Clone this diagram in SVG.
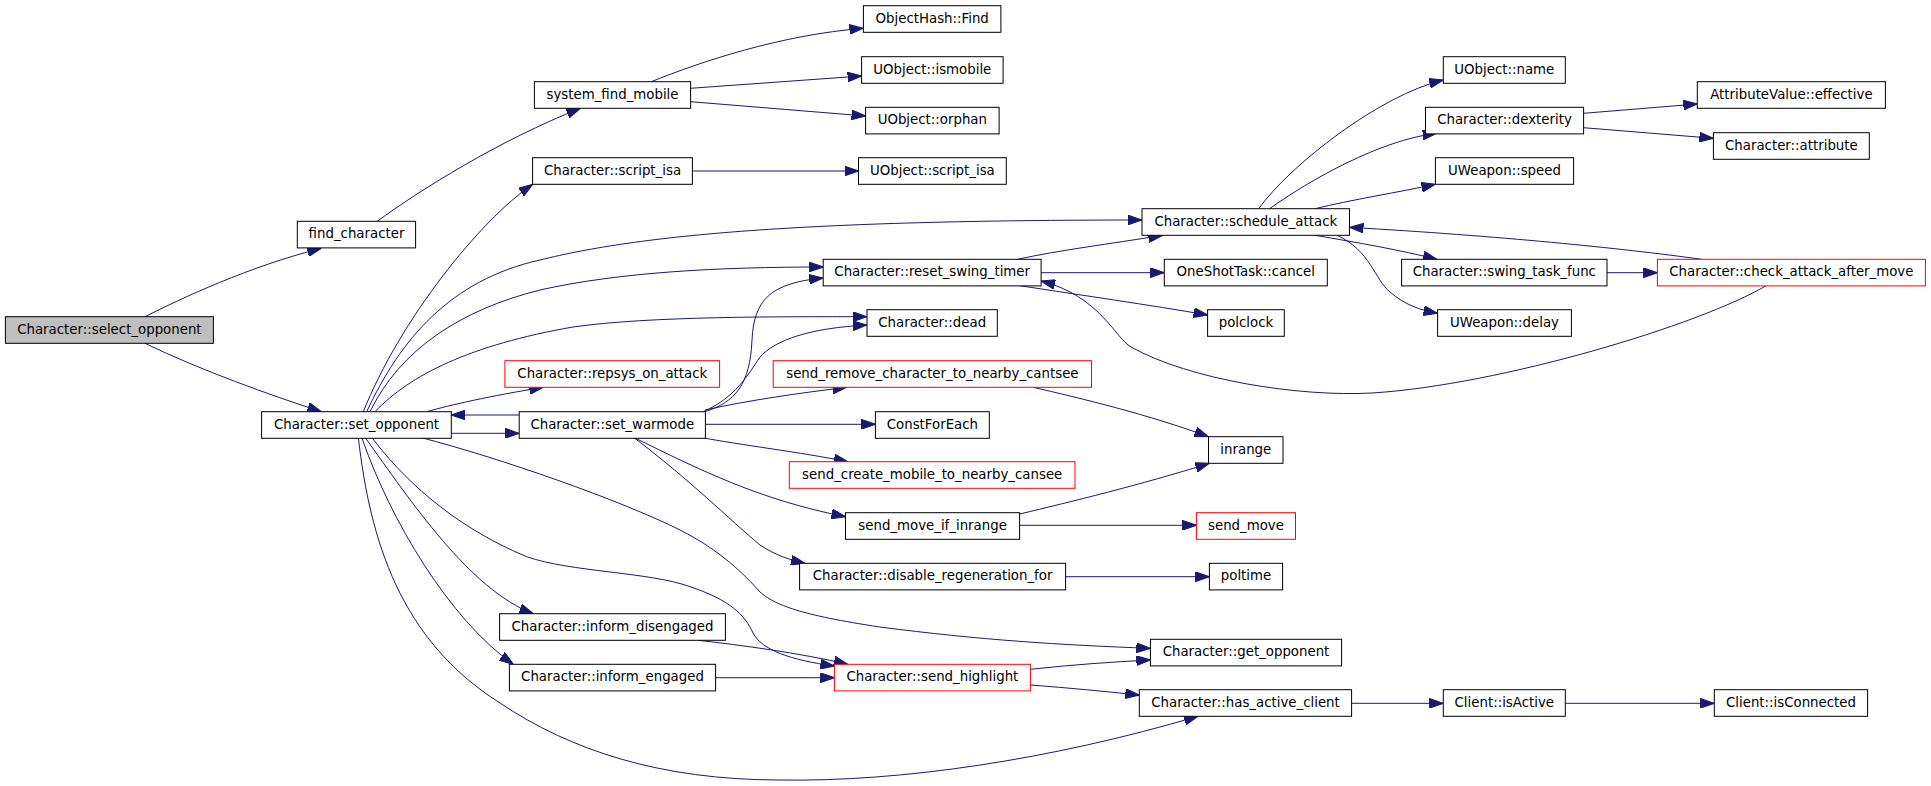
<svg xmlns="http://www.w3.org/2000/svg" width="1931" height="786" viewBox="0 0 1931 786">
<defs>
<style>
.n rect{fill:#ffffff;stroke:#000000;stroke-width:1}
.n.r rect{stroke:#ff0000}
.n.g rect{fill:#bfbfbf}
.n text{font-family:"DejaVu Sans","Liberation Sans",sans-serif;font-size:13.33px;fill:#000000;text-anchor:middle}
.e path{fill:none;stroke:#191970;stroke-width:1;marker-end:url(#ah)}
</style>
<marker id="ah" markerUnits="userSpaceOnUse" markerWidth="14" markerHeight="10" viewBox="0 0 13 9" refX="13" refY="4.5" orient="auto">
<path d="M0,0 L13,4.5 L0,9 z" fill="#191970" stroke="#191970" stroke-width="1"/>
</marker>
</defs>
<rect x="0" y="0" width="1931" height="786" fill="#ffffff"/>
<g id="edges" class="e">
<path d="M145,316.7 C180,299 250,266 321.4,248.3"/>
<path d="M145,343.3 C200,370 270,395 321.4,411.7"/>
<path d="M377.2,221.3 C420,190 500,140 580.4,108.3"/>
<path d="M651.3,81.7 C700,62 780,35 863.4,28.3"/>
<path d="M690.6,88.3 L861.6,76"/>
<path d="M690.6,101.7 L865.6,116"/>
<path d="M692.4,171 L858.5,171"/>
<path d="M363.3,411.7 C400,320 480,220 532.6,184.3"/>
<path d="M366.7,411.7 C400,340 450,280 540,260 C640,235 800,220 1142,220"/>
<path d="M370,411.7 C400,350 460,310 540,290 C620,272 720,267 823.2,267"/>
<path d="M375,411.7 C410,375 470,345 573,327 C650,316 780,316.7 867,316.7"/>
<path d="M426.7,411.7 C450,405 490,396 543.3,387.3"/>
<path d="M451.3,433.3 L519.2,433.3"/>
<path d="M519.2,415 L451.3,415"/>
<path d="M420,437.3 C500,458 620,500 680,530 C720,550 745,575 760,592 C775,605 800,615 880,627 C980,640 1060,645 1150.4,648.3"/>
<path d="M365,437.3 C410,500 470,590 533.3,613.7"/>
<path d="M361.7,437.3 C390,520 450,620 513.3,664.3"/>
<path d="M371.7,437.3 C400,475 450,525 526.7,556.7 C570,572 650,572 690,586.7 C730,600 745,615 753,633 C762,650 790,660 834.4,666"/>
<path d="M358.3,437.3 C370,540 400,640 500,703 C570,750 660,780 780,780 C900,782 1050,760 1198,716.3"/>
<path d="M705,411.7 C735,402 750,385 752,340 C754,300 770,283 823.2,278"/>
<path d="M703,411.7 C735,398 748,375 760,357 C775,340 810,328 867,325"/>
<path d="M705,410 C750,400 800,393 846.7,387.3"/>
<path d="M705.4,424.3 L875.4,424.3"/>
<path d="M700.4,437.3 C740,445 800,452 847.8,461.7"/>
<path d="M633.5,437.3 C700,470 760,500 845.5,516.7"/>
<path d="M633.5,437.3 C690,480 730,520 760,545 C775,555 790,560 805,563.3"/>
<path d="M1017.4,259.3 C1060,250 1110,244 1162.5,235.3"/>
<path d="M1041.1,272.7 L1164.3,272.7"/>
<path d="M1017.4,285.3 C1080,295 1150,305 1207.6,315"/>
<path d="M1258.7,208.7 C1290,165 1380,95 1443.3,80"/>
<path d="M1269.5,208.7 C1310,180 1380,140 1436.8,133.3"/>
<path d="M1315,208.7 C1350,200 1400,192 1435.4,184.3"/>
<path d="M1315,235.3 C1360,243 1400,250 1436.8,259.3"/>
<path d="M1337,235.3 C1370,250 1375,280 1390,292 C1405,305 1420,310 1437.6,313.3"/>
<path d="M1583.6,113.3 L1697.3,104"/>
<path d="M1583.6,127.7 L1713.4,138.3"/>
<path d="M1607,272.7 L1657.4,272.7"/>
<path d="M1701.7,259.3 C1620,248 1500,236 1349.5,227.3"/>
<path d="M1766.8,285.3 C1700,325 1500,385 1372,393 C1300,397 1190,380 1131,347 C1115,338 1100,296 1041.1,281"/>
<path d="M1033,387.3 C1080,398 1150,415 1208.5,436.7"/>
<path d="M1019.6,514 C1070,502 1140,485 1209.4,463.3"/>
<path d="M1019.6,525.3 L1196.4,525.3"/>
<path d="M1065.6,576.7 L1209.4,576.7"/>
<path d="M698,640.3 C740,645 800,653 847.8,664.3"/>
<path d="M715.6,677.7 L834.4,677.7"/>
<path d="M1030.4,669.3 C1070,665 1110,662 1150.4,660"/>
<path d="M1030.4,685 C1070,688 1100,691 1139.3,695"/>
<path d="M1351.6,703.3 L1443.3,703.3"/>
<path d="M1565.3,703.3 L1714.3,703.3"/>
</g>
<g id="n_select_opponent" class="n g"><rect x="5.4" y="316.7" width="208" height="26.6"/><text x="109.4" y="333.5">Character::select_opponent</text></g>
<g id="n_find_character" class="n"><rect x="297.3" y="221.3" width="118.3" height="26.6"/><text x="356.5" y="238.1">find_character</text></g>
<g id="n_system_find_mobile" class="n"><rect x="534.4" y="81.7" width="156.2" height="26.6"/><text x="612.5" y="98.5">system_find_mobile</text></g>
<g id="n_char_script_isa" class="n"><rect x="532.6" y="157.7" width="159.8" height="26.6"/><text x="612.5" y="174.5">Character::script_isa</text></g>
<g id="n_set_opponent" class="n"><rect x="261.6" y="411.7" width="189.7" height="26.6"/><text x="356.5" y="428.5">Character::set_opponent</text></g>
<g id="n_repsys" class="n r"><rect x="504.9" y="360.7" width="214.7" height="26.6"/><text x="612.3" y="377.5">Character::repsys_on_attack</text></g>
<g id="n_set_warmode" class="n"><rect x="519.2" y="411.7" width="186.2" height="26.6"/><text x="612.3" y="428.5">Character::set_warmode</text></g>
<g id="n_inform_disengaged" class="n"><rect x="499.6" y="613.7" width="225.8" height="26.6"/><text x="612.5" y="630.5">Character::inform_disengaged</text></g>
<g id="n_inform_engaged" class="n"><rect x="509.4" y="664.3" width="206.2" height="26.6"/><text x="612.5" y="681.1">Character::inform_engaged</text></g>
<g id="n_objecthash_find" class="n"><rect x="863.4" y="5.7" width="137.5" height="26.6"/><text x="932.2" y="22.5">ObjectHash::Find</text></g>
<g id="n_ismobile" class="n"><rect x="861.6" y="56.7" width="141.5" height="26.6"/><text x="932.3" y="73.5">UObject::ismobile</text></g>
<g id="n_orphan" class="n"><rect x="865.6" y="107.3" width="133.5" height="26.6"/><text x="932.3" y="124.1">UObject::orphan</text></g>
<g id="n_uobject_script_isa" class="n"><rect x="858.5" y="157.7" width="147.8" height="26.6"/><text x="932.4" y="174.5">UObject::script_isa</text></g>
<g id="n_reset_swing_timer" class="n"><rect x="823.2" y="259.3" width="217.9" height="26.6"/><text x="932.2" y="276.1">Character::reset_swing_timer</text></g>
<g id="n_dead" class="n"><rect x="867" y="309.7" width="130.3" height="26.6"/><text x="932.2" y="326.5">Character::dead</text></g>
<g id="n_send_remove" class="n r"><rect x="773.2" y="360.7" width="318.3" height="26.6"/><text x="932.4" y="377.5">send_remove_character_to_nearby_cantsee</text></g>
<g id="n_constforeach" class="n"><rect x="875.4" y="411.7" width="113.9" height="26.6"/><text x="932.4" y="428.5">ConstForEach</text></g>
<g id="n_send_create" class="n r"><rect x="789.3" y="461.7" width="285.7" height="26.6"/><text x="932.2" y="478.5">send_create_mobile_to_nearby_cansee</text></g>
<g id="n_send_move_if_inrange" class="n"><rect x="845.5" y="512.7" width="174.1" height="26.6"/><text x="932.6" y="529.5">send_move_if_inrange</text></g>
<g id="n_disable_regen" class="n"><rect x="799.6" y="563.3" width="266" height="26.6"/><text x="932.6" y="580.1">Character::disable_regeneration_for</text></g>
<g id="n_send_highlight" class="n r"><rect x="834.4" y="664.3" width="196" height="26.6"/><text x="932.4" y="681.1">Character::send_highlight</text></g>
<g id="n_schedule_attack" class="n"><rect x="1142" y="208.7" width="207.5" height="26.6"/><text x="1245.8" y="225.5">Character::schedule_attack</text></g>
<g id="n_cancel" class="n"><rect x="1164.3" y="259.3" width="163" height="26.6"/><text x="1245.8" y="276.1">OneShotTask::cancel</text></g>
<g id="n_polclock" class="n"><rect x="1207.6" y="309.7" width="76.7" height="26.6"/><text x="1246" y="326.5">polclock</text></g>
<g id="n_inrange" class="n"><rect x="1208.5" y="436.7" width="74.5" height="26.6"/><text x="1245.8" y="453.5">inrange</text></g>
<g id="n_send_move" class="n r"><rect x="1196.4" y="512.7" width="99.1" height="26.6"/><text x="1246" y="529.5">send_move</text></g>
<g id="n_poltime" class="n"><rect x="1209.4" y="563.3" width="73.2" height="26.6"/><text x="1246" y="580.1">poltime</text></g>
<g id="n_get_opponent" class="n"><rect x="1150.4" y="639.3" width="191.2" height="26.6"/><text x="1246" y="656.1">Character::get_opponent</text></g>
<g id="n_has_active_client" class="n"><rect x="1139.3" y="689.7" width="212.3" height="26.6"/><text x="1245.5" y="706.5">Character::has_active_client</text></g>
<g id="n_uobject_name" class="n"><rect x="1443.3" y="56.7" width="122" height="26.6"/><text x="1504.3" y="73.5">UObject::name</text></g>
<g id="n_dexterity" class="n"><rect x="1425.5" y="107.3" width="158.1" height="26.6"/><text x="1504.5" y="124.1">Character::dexterity</text></g>
<g id="n_speed" class="n"><rect x="1435.4" y="157.7" width="138.2" height="26.6"/><text x="1504.5" y="174.5">UWeapon::speed</text></g>
<g id="n_swing_task_func" class="n"><rect x="1401.6" y="259.3" width="205.4" height="26.6"/><text x="1504.3" y="276.1">Character::swing_task_func</text></g>
<g id="n_delay" class="n"><rect x="1437.6" y="309.7" width="133.8" height="26.6"/><text x="1504.5" y="326.5">UWeapon::delay</text></g>
<g id="n_isactive" class="n"><rect x="1443.3" y="689.7" width="122" height="26.6"/><text x="1504.3" y="706.5">Client::isActive</text></g>
<g id="n_effective" class="n"><rect x="1697.3" y="81.7" width="188.1" height="26.6"/><text x="1791.4" y="98.5">AttributeValue::effective</text></g>
<g id="n_attribute" class="n"><rect x="1713.4" y="132.7" width="155.9" height="26.6"/><text x="1791.4" y="149.5">Character::attribute</text></g>
<g id="n_check_attack" class="n r"><rect x="1657.4" y="259.3" width="268" height="26.6"/><text x="1791.4" y="276.1">Character::check_attack_after_move</text></g>
<g id="n_isconnected" class="n"><rect x="1714.3" y="689.7" width="153.3" height="26.6"/><text x="1791" y="706.5">Client::isConnected</text></g>
</svg>
